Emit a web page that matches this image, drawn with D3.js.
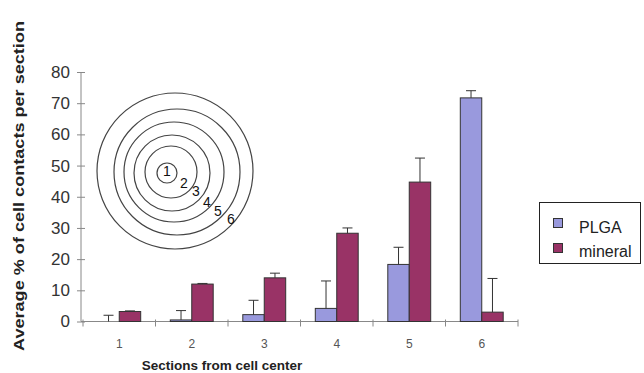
<!DOCTYPE html>
<meta charset="utf-8">
<style>
    body { margin: 0; background: #fff; }
    text { font-family: "Liberation Sans", Arial, sans-serif; }
    .bar { stroke: #333; stroke-width: 1px; }
    .err { stroke: #333; stroke-width: 1px; fill: none; }
</style>
<body>
<script src="https://d3js.org/d3.v7.min.js"></script>
<script>
    var sections = ["1", "2", "3", "4", "5", "6"];
    var seriesNames = ["PLGA", "mineral"];
    var plga = [0, 0.5, 2.2, 4.2, 18.3, 71.7];
    var plgaErr = [2, 3, 4.6, 8.8, 5.5, 2.3];
    var mineral = [3.2, 12, 14, 28.3, 44.7, 3];
    var mineralErr = [0.2, 0.2, 1.5, 1.7, 7.7, 10.8];
    var yTicks = [0, 10, 20, 30, 40, 50, 60, 70, 80];

    var color = { PLGA: "#9999dd", mineral: "#993366" };

    var svg = d3.select("body").append("svg").attr("width", 644).attr("height", 373);

    var x = d3.scaleBand().domain(sections).range([83, 518]);
    var xs = d3.scaleBand().domain(seriesNames).range([0, x.bandwidth()])
        .paddingInner(0).paddingOuter(0.69);
    var y = d3.scaleLinear().domain([0, 80]).range([321.5, 72]);

    // target diagram
    var rings = [[167, 173, 10], [171, 172, 26], [172, 173, 38], [174, 172, 50], [177, 172, 63], [175, 171, 78]];
    svg.append("g").selectAll("circle").data(rings).join("circle")
        .attr("cx", d => d[0]).attr("cy", d => d[1]).attr("r", d => d[2])
        .attr("fill", "none").attr("stroke", "#444").attr("stroke-width", 1.2);
    var ringLabels = [[167, 171], [184, 183], [196, 191], [207, 202], [218, 211], [231, 219]];
    svg.append("g").selectAll("text").data(ringLabels).join("text")
        .attr("x", d => d[0]).attr("y", d => d[1] + 5)
        .attr("text-anchor", "middle").attr("font-size", 14).attr("fill", "#111")
        .text((d, i) => i + 1);

    // y axis
    var yAxis = svg.append("g").attr("transform", "translate(81,0)")
        .call(d3.axisLeft(y).tickValues(yTicks).tickSize(4).tickPadding(7));
    yAxis.select(".domain").attr("stroke", "#888").attr("d", "M0," + y(80) + "V" + y(0));
    yAxis.selectAll(".tick line").attr("stroke", "#888").attr("x1", 4).attr("x2", -4);
    yAxis.selectAll(".tick text").attr("font-size", 17).attr("fill", "#333")
        .attr("font-family", "Liberation Sans, Arial, sans-serif");

    // x axis
    var xAxis = svg.append("g").attr("transform", "translate(0," + y(0) + ")");
    xAxis.append("line").attr("x1", 81).attr("x2", 518).attr("stroke", "#888");
    var bounds = sections.map(s => x(s)).concat([x(sections[5]) + x.bandwidth()]);
    xAxis.selectAll(".xt").data(bounds).join("line").attr("class", "xt")
        .attr("x1", d => d).attr("x2", d => d).attr("y1", -2).attr("y2", 5).attr("stroke", "#888");
    xAxis.selectAll(".xl").data(sections).join("text").attr("class", "xl")
        .attr("x", d => x(d) + x.bandwidth() / 2).attr("y", 26)
        .attr("text-anchor", "middle").attr("font-size", 12).attr("fill", "#555")
        .text(d => d);

    // bars
    var rows = [];
    sections.forEach(function(s, i) {
        rows.push({ s: s, k: "PLGA", v: plga[i], e: plgaErr[i] });
        rows.push({ s: s, k: "mineral", v: mineral[i], e: mineralErr[i] });
    });
    svg.append("g").selectAll("rect").data(rows).join("rect").attr("class", "bar")
        .attr("x", d => x(d.s) + xs(d.k)).attr("width", xs.bandwidth())
        .attr("y", d => y(d.v)).attr("height", d => y(0) - y(d.v))
        .attr("fill", d => color[d.k]);

    svg.append("g").selectAll("path").data(rows).join("path").attr("class", "err")
        .attr("d", function(d) {
            var cx = x(d.s) + xs(d.k) + xs.bandwidth() / 2;
            var top = y(d.v + d.e);
            return "M" + cx + "," + y(d.v) + "V" + top + "M" + (cx - 5) + "," + top + "H" + (cx + 5);
        });

    // axis titles
    svg.append("text").attr("transform", "translate(24,186) rotate(-90)")
        .attr("text-anchor", "middle").attr("font-size", 14).attr("font-weight", "bold")
        .attr("fill", "#222").attr("textLength", 330).attr("lengthAdjust", "spacingAndGlyphs")
        .text("Average % of cell contacts per section");
    svg.append("text").attr("x", 222).attr("y", 370)
        .attr("text-anchor", "middle").attr("font-size", 13.5).attr("font-weight", "bold")
        .attr("fill", "#222").text("Sections from cell center");

    // legend
    var lg = svg.append("g");
    lg.append("rect").attr("x", 539.5).attr("y", 202.5).attr("width", 101).attr("height", 61)
        .attr("fill", "#fff").attr("stroke", "#222");
    seriesNames.forEach(function(k, i) {
        lg.append("rect").attr("x", 553.5).attr("y", 218.5 + i * 25).attr("width", 9).attr("height", 9)
            .attr("fill", color[k]).attr("stroke", "#333");
        lg.append("text").attr("x", 579).attr("y", 233 + i * 24).attr("font-size", 16)
            .attr("fill", "#222").text(k);
    });
</script>
</body>
